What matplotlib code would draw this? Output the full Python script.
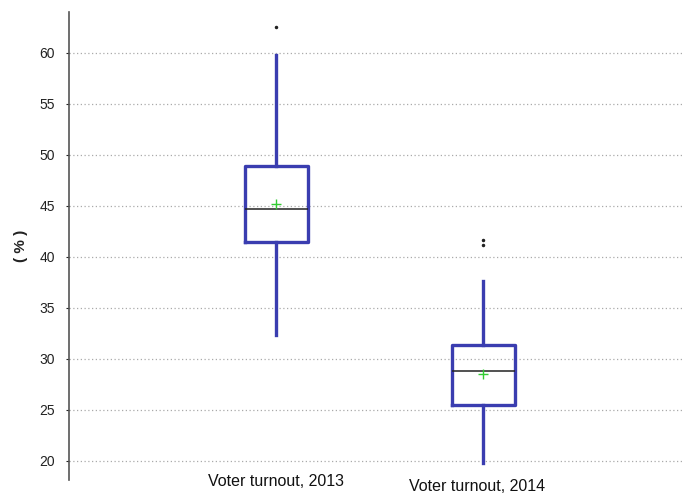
import matplotlib.pyplot as plt
from matplotlib import transforms

# turnout summary per election (percent)
categories = ["Voter turnout, 2013", "Voter turnout, 2014"]
medians = [44.7, 28.8]
means = [45.2, 28.5]
q1 = [41.4, 25.5]
q3 = [48.9, 31.3]
whisker_low = [32.3, 19.8]
whisker_high = [59.8, 37.6]
outliers = [[62.5], [41.1, 41.6]]

plt.rcParams['font.family'] = ['Liberation Sans', 'DejaVu Sans']

fig = plt.figure(figsize=(6.84, 4.93), dpi=100)
ax = fig.add_axes([0.101, 0.026, 0.899, 0.950])

stats = []
for i, name in enumerate(categories):
    stats.append({
        "label": name,
        "med": medians[i],
        "mean": means[i],
        "q1": q1[i],
        "q3": q3[i],
        "whislo": whisker_low[i],
        "whishi": whisker_high[i],
        "fliers": outliers[i],
    })

blue = "#3a3db0"
ax.bxp(stats, positions=[1, 2], widths=0.305, showmeans=True, showcaps=False,
       boxprops=dict(color=blue, linewidth=2.4),
       whiskerprops=dict(color=blue, linewidth=2.4),
       medianprops=dict(color="#222222", linewidth=1.1),
       meanprops=dict(marker="+", markeredgecolor="#33cc33", markersize=7, markeredgewidth=1.0),
       flierprops=dict(marker=".", markerfacecolor="#222222", markeredgecolor="#222222", markersize=3),
       zorder=3)

ax.set_xlim(0.0, 2.97)
ax.set_ylim(18.1, 64.0)
ax.set_yticks(range(20, 61, 5))
ax.tick_params(axis="y", labelsize=10, length=2, width=0.8, pad=8, colors="#222222")
ax.set_xticks([])
ax.yaxis.grid(True, linestyle=(0, (1, 2)), color="#aaaaaa", linewidth=0.9)
ax.set_axisbelow(True)

for side in ["top", "right", "bottom"]:
    ax.spines[side].set_visible(False)
ax.spines["left"].set_color("#555555")
ax.spines["left"].set_linewidth(1.2)

ax.set_ylabel("( % )", fontsize=11, fontweight="bold", labelpad=8, color="#222222")

# category labels, the second one sits a little lower
trans = transforms.blended_transform_factory(ax.transData, ax.transAxes)
label_y = [-0.003, -0.013]
label_x = [1.0, 1.97]
for x, y, name in zip(label_x, label_y, categories):
    ax.text(x, y, name, transform=trans, ha="center", va="center", fontsize=11.5, color="#111111")

fig.savefig("out.png", dpi=100)
